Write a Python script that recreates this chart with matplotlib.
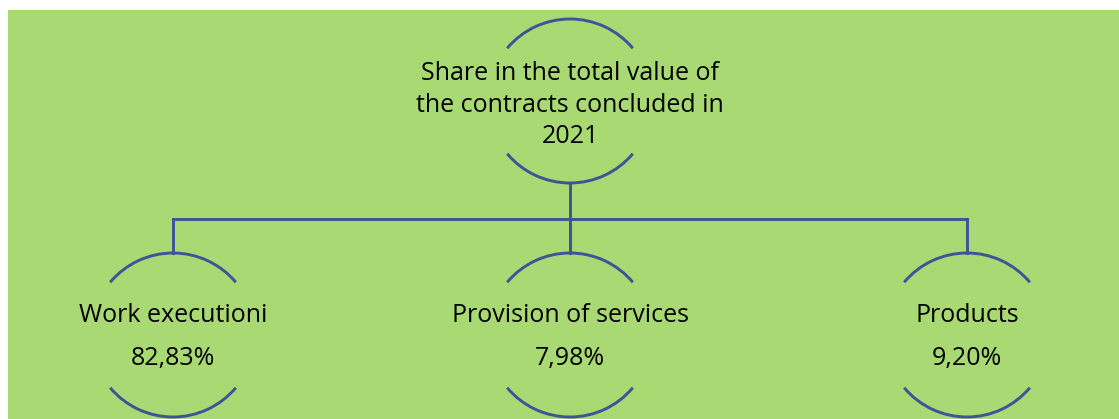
import matplotlib
matplotlib.use("Agg")
import matplotlib.pyplot as plt
from matplotlib.patches import Arc, Rectangle

# diagram content
root_label = "Share in the total value of\nthe contracts concluded in\n2021"
categories = ["Work executioni", "Provision of services", "Products"]
shares = ["82,83%", "7,98%", "9,20%"]

BG = "#a8d973"
LINE = "#3b5597"
FONT = ["Open Sans", "DejaVu Sans"]
FS = 18

W, H = 1119, 419
fig = plt.figure(figsize=(W / 100, H / 100), dpi=100)
ax = fig.add_axes([0, 0, 1, 1])
ax.set_xlim(0, W)
ax.set_ylim(H, 0)
ax.axis("off")

ax.add_patch(Rectangle((8, 10), W - 8, H - 10, facecolor=BG, edgecolor="none"))

r = 82
root = (570, 101)
child_y = 335
child_x = [173, 570, 967]
bar_y = 219
LW = 2.1


def node(cx, cy):
    # open circle: only top and bottom arcs are drawn
    for t1, t2 in [(220, 320), (40, 140)]:
        ax.add_patch(Arc((cx, cy), 2 * r, 2 * r, theta1=t1, theta2=t2,
                         color=LINE, lw=LW))


node(*root)
for x in child_x:
    node(x, child_y)

# connectors
ax.plot([root[0], root[0]], [root[1] + r, child_y - r], color=LINE, lw=LW)
ax.plot([child_x[0], child_x[-1]], [bar_y, bar_y], color=LINE, lw=LW)
for x in child_x:
    ax.plot([x, x], [bar_y, child_y - r], color=LINE, lw=LW)

# text
for i, line in enumerate(root_label.split("\n")):
    ax.text(root[0], 80 + i * 31.5, line, ha="center", va="baseline",
            fontsize=FS, family=FONT, color="black")
for x, cat, s in zip(child_x, categories, shares):
    ax.text(x, 322, cat, ha="center", va="baseline", fontsize=FS,
            family=FONT, color="black")
    ax.text(x, 365, s, ha="center", va="baseline", fontsize=FS,
            family=FONT, color="black")

fig.savefig("out.png", dpi=100)
